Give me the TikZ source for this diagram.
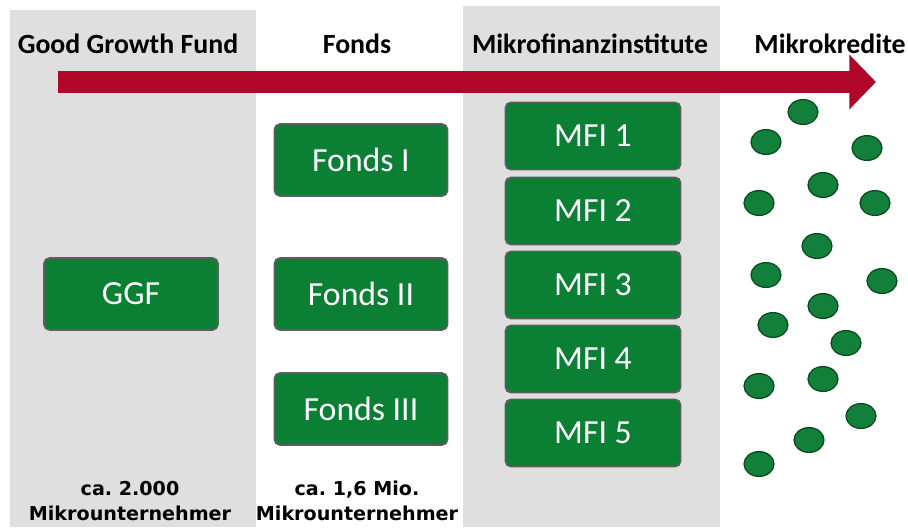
\documentclass[tikz,border=0pt]{standalone}
\usepackage{fontspec}
\setmainfont{Carlito}
\newfontfamily\notefont{DejaVu Sans}
\usetikzlibrary{arrows.meta,shapes.geometric}

\definecolor{panelgray}{HTML}{DFDFDF}
\definecolor{boxgreen}{HTML}{0B7F34}
\definecolor{boxedge}{HTML}{5E5E5E}
\definecolor{dotgreen}{HTML}{12803A}
\definecolor{dotedge}{HTML}{0A4A20}
\definecolor{arrowred}{HTML}{B0062A}

\begin{document}
\begin{tikzpicture}[
		x=0.025cm, y=-0.025cm,
		box/.style={rectangle, rounded corners=4pt, draw=boxedge, line width=1.2pt,
			fill=boxgreen, text=white, font=\fontsize{24}{28}\selectfont},
		ggfbox/.style={box, minimum width=4.35cm, minimum height=1.8cm},
		fondsbox/.style={box, minimum width=4.33cm, minimum height=1.8cm},
		mfibox/.style={box, minimum width=4.38cm, minimum height=1.68cm},
		head/.style={font=\fontsize{19.8}{22}\selectfont\bfseries},
		note/.style={align=center, font=\notefont\frenchspacing\fontsize{13.6}{17.7}\selectfont\bfseries},
		credit/.style={ellipse, draw=dotedge, line width=0.9pt, fill=dotgreen,
			minimum width=0.75cm, minimum height=0.62cm, inner sep=0pt},
		flow/.style={draw=arrowred, line width=15.6pt,
			-{Triangle[length=19pt, width=38pt, fill=arrowred]}}
	]
  \useasboundingbox (0,0) rectangle (908,527);
  % gray columns
  \fill[panelgray] (10,10) rectangle (256,527);
  \fill[panelgray] (463,6) rectangle (720,527);

  % column heads
  \node (head_ggf) [head] at (128,44) {Good Growth Fund};
  \node (head_fonds) [head] at (357,44) {Fonds};
  \node (head_mfi) [head] at (590,44) {Mikrofinanzinstitute};
  \node (head_credit) [head] at (830,44) {Mikrokredite};

  % big arrow
  \coordinate (flow_start) at (58,82);
  \coordinate (flow_end) at (876,82);
  \draw[flow] (flow_start) -- (flow_end);

  \node (ggf) [ggfbox] at (131,294) {GGF};
  \node (fonds_1) [fondsbox] at (361,160) {Fonds I};
  \node (fonds_2) [fondsbox] at (361,294) {Fonds II};
  \node (fonds_3) [fondsbox] at (361,409) {Fonds III};
  \node (mfi_1) [mfibox] at (593,136) {MFI 1};
  \node (mfi_2) [mfibox] at (593,211) {MFI 2};
  \node (mfi_3) [mfibox] at (593,285) {MFI 3};
  \node (mfi_4) [mfibox] at (593,359) {MFI 4};
  \node (mfi_5) [mfibox] at (593,433) {MFI 5};

  % micro credits
  \node (c_1) [credit] at (803,112) {};
  \node (c_2) [credit] at (766,142) {};
  \node (c_3) [credit] at (867,148) {};
  \node (c_4) [credit] at (823,185) {};
  \node (c_5) [credit] at (759,203) {};
  \node (c_6) [credit] at (875,203) {};
  \node (c_7) [credit] at (817,246) {};
  \node (c_8) [credit] at (766,275) {};
  \node (c_9) [credit] at (882,281) {};
  \node (c_10) [credit] at (823,306) {};
  \node (c_11) [credit] at (773,325) {};
  \node (c_12) [credit] at (846,343) {};
  \node (c_13) [credit] at (823,379) {};
  \node (c_14) [credit] at (759,386) {};
  \node (c_15) [credit] at (861,416) {};
  \node (c_16) [credit] at (809,440) {};
  \node (c_17) [credit] at (759,464) {};

  \node (note_ggf) [note] at (130,501) {ca. 2.000\\Mikrounternehmer};
  \node (note_fonds) [note] at (357,501) {ca. 1,6 Mio.\\Mikrounternehmer};
\end{tikzpicture}
\end{document}
